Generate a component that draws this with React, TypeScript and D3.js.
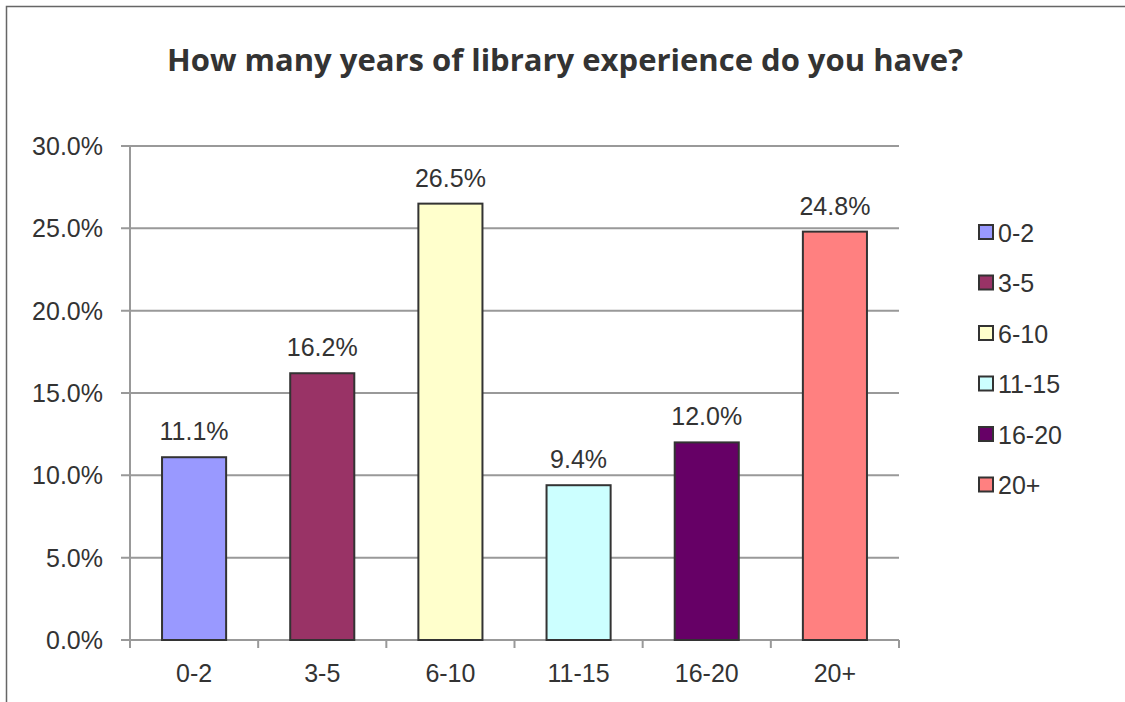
import * as d3 from "d3";
import { useEffect, useRef } from "react";

const categories = ["0-2", "3-5", "6-10", "11-15", "16-20", "20+"];
const values = [11.1, 16.2, 26.5, 9.4, 12.0, 24.8];
const colors = ["#9999FF", "#993366", "#FFFFCC", "#CCFFFF", "#660066", "#FF8080"];
const yTicks = [0, 5, 10, 15, 20, 25, 30];
const title = "How many years of library experience do you have?";

const W = 1125;
const H = 702;
const labelFont = "'Liberation Sans', Arial, sans-serif";

export default function App() {
  const ref = useRef<SVGSVGElement>(null);

  useEffect(() => {
    const svg = d3.select(ref.current);
    svg.selectAll("*").remove();

    const left = 130;
    const right = 899;
    const top = 146;
    const bottom = 640;

    const x = d3.scaleBand().domain(categories).range([left, right]).paddingInner(0.5).paddingOuter(0.25);
    const y = d3.scaleLinear().domain([0, 30]).range([bottom, top]);

    const text = (
      g: d3.Selection<any, any, any, any>,
      tx: number,
      ty: number,
      s: string,
      anchor: string,
      size = 25
    ) =>
      g
        .append("text")
        .attr("x", tx)
        .attr("y", ty)
        .attr("text-anchor", anchor)
        .attr("font-family", labelFont)
        .attr("font-size", size)
        .attr("fill", "#333")
        .text(s);

    // outer frame
    svg
      .append("path")
      .attr("d", `M6.5,${H + 5} V6.5 H${W + 5}`)
      .attr("fill", "none")
      .attr("stroke", "#666")
      .attr("stroke-width", 1.5);

    // title
    svg
      .append("text")
      .attr("x", 565)
      .attr("y", 71)
      .attr("text-anchor", "middle")
      .attr("font-family", "'Open Sans', sans-serif")
      .attr("font-weight", 700)
      .attr("font-size", 31)
      .attr("fill", "#333")
      .text(title);

    // gridlines + y ticks
    const grid = svg.append("g");
    yTicks.forEach((t) => {
      grid
        .append("line")
        .attr("x1", left - 9)
        .attr("x2", right)
        .attr("y1", y(t))
        .attr("y2", y(t))
        .attr("stroke", "#999")
        .attr("stroke-width", 2);
      text(grid, 103, y(t) + 9, `${t.toFixed(1)}%`, "end");
    });

    // y axis line
    svg
      .append("line")
      .attr("x1", left)
      .attr("x2", left)
      .attr("y1", top)
      .attr("y2", bottom + 8)
      .attr("stroke", "#999")
      .attr("stroke-width", 2);

    // x ticks
    const step = x.step();
    d3.range(categories.length + 1).forEach((i) => {
      const xx = left + i * step;
      svg
        .append("line")
        .attr("x1", xx)
        .attr("x2", xx)
        .attr("y1", bottom)
        .attr("y2", bottom + 8)
        .attr("stroke", "#999")
        .attr("stroke-width", 2);
    });

    // bars
    const bars = svg.append("g");
    categories.forEach((c, i) => {
      bars
        .append("rect")
        .attr("x", x(c)!)
        .attr("y", y(values[i]))
        .attr("width", x.bandwidth())
        .attr("height", y(0) - y(values[i]))
        .attr("fill", colors[i])
        .attr("stroke", "#333")
        .attr("stroke-width", 2);
      text(bars, x(c)! + x.bandwidth() / 2, y(values[i]) - 17, `${values[i].toFixed(1)}%`, "middle");
      text(bars, x(c)! + x.bandwidth() / 2, 682, c, "middle");
    });

    // legend
    const legend = svg.append("g");
    categories.forEach((c, i) => {
      const ly = 232 + i * 50.5;
      legend
        .append("rect")
        .attr("x", 979)
        .attr("y", ly - 7)
        .attr("width", 14)
        .attr("height", 14)
        .attr("fill", colors[i])
        .attr("stroke", "#333")
        .attr("stroke-width", 2);
      text(legend, 998, ly + 9.5, c, "start");
    });
  });

  return (
    <div style={{ position: "absolute", left: 0, top: 0, width: W, height: H, background: "#fff" }}>
      <svg ref={ref} width={W} height={H} style={{ display: "block" }} />
    </div>
  );
}
